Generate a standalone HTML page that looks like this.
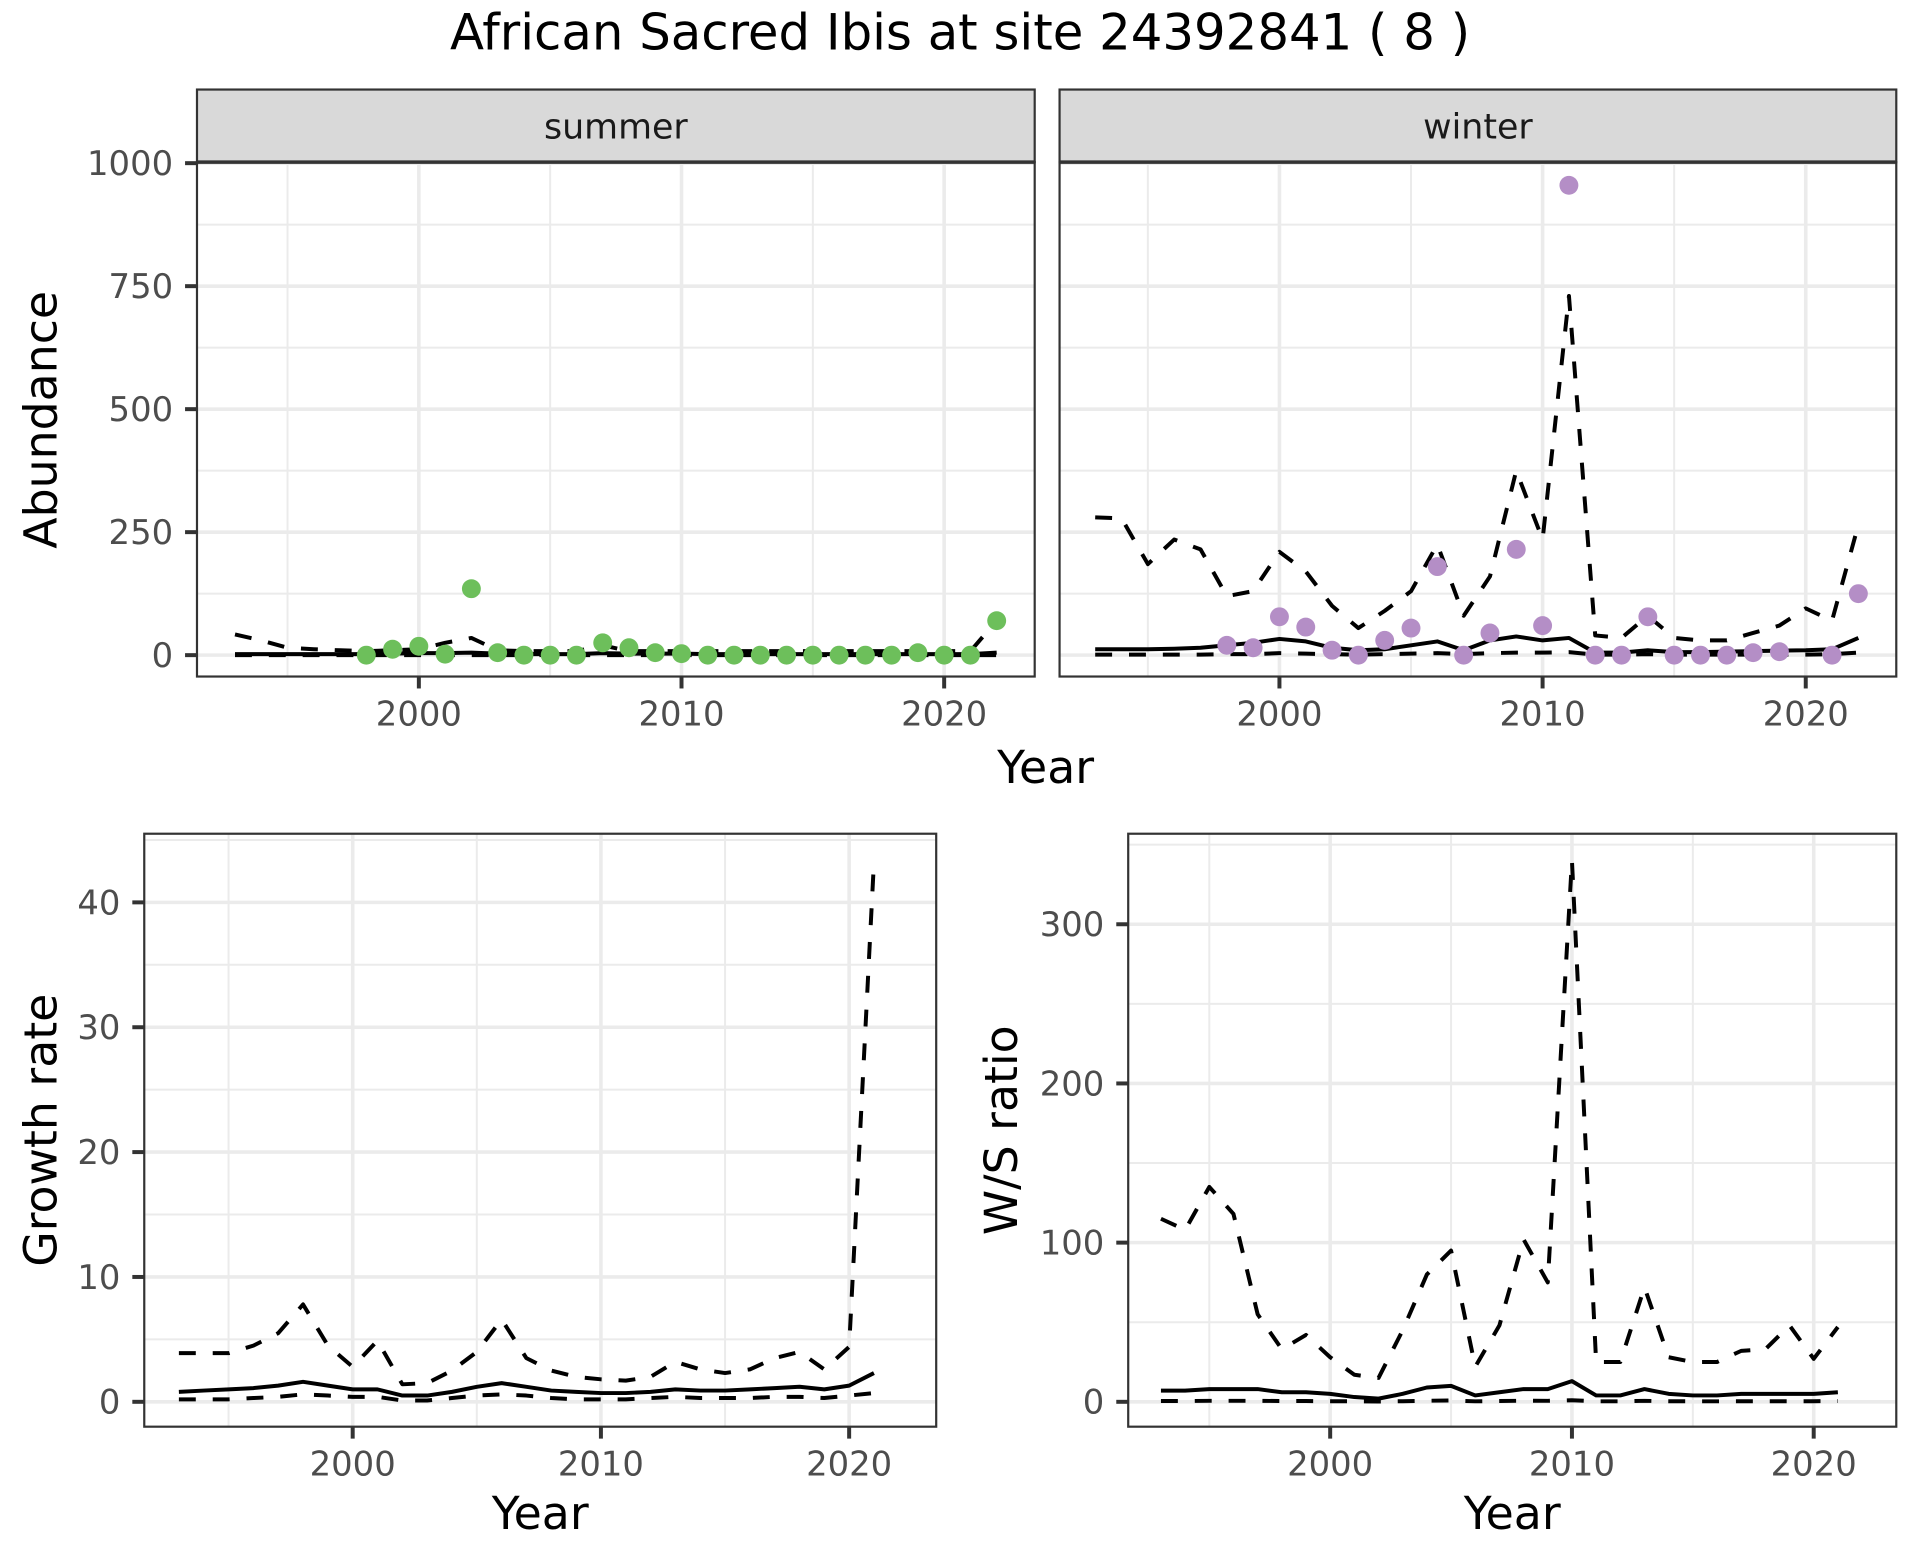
<!DOCTYPE html>
<html><head><meta charset="utf-8"><style>
html,body{margin:0;padding:0;background:#fff}
svg{display:block;font-family:"DejaVu Sans","Liberation Sans",sans-serif}
</style></head><body>
<svg width="1920" height="1560" viewBox="0 0 1920 1560" xmlns="http://www.w3.org/2000/svg">
<g id="chart" transform="scale(0.9949)">
<text x="965" y="50" font-size="50" text-anchor="middle" fill="#000">African Sacred Ibis at site 24392841 ( 8 )</text>
</g>
</svg>
<script>
const yearsTop = [1993,1994,1995,1996,1997,1998,1999,2000,2001,2002,2003,2004,2005,2006,2007,2008,2009,2010,2011,2012,2013,2014,2015,2016,2017,2018,2019,2020,2021,2022];
const summerUpper = [42,30,15,12,10,8,10,12,25,35,10,8,8,8,20,8,8,8,8,8,8,8,8,8,8,8,8,8,8,70];
const summerMid = [2,2,2,2,2,2,3,4,4,5,3,2,2,2,4,3,3,3,2,2,2,2,2,2,2,2,2,2,2,5];
const summerLower = [0,0,0,0,0,0,0,0,0,0,0,0,0,0,0,0,0,0,0,0,0,0,0,0,0,0,0,0,0,0];
const summerPtYears = [1998,1999,2000,2001,2002,2003,2004,2005,2006,2007,2008,2009,2010,2011,2012,2013,2014,2015,2016,2017,2018,2019,2020,2021,2022];
const summerPts = [0,12,18,2,135,5,0,0,0,25,15,5,3,0,0,0,0,0,0,0,0,5,0,0,70];
const winterUpper = [280,278,185,235,215,120,130,210,170,100,55,90,130,225,80,160,375,235,730,40,35,80,35,30,30,45,60,95,70,265];
const winterMid = [12,12,12,13,15,20,25,33,28,15,10,12,20,28,10,30,38,30,35,5,5,10,6,6,7,8,9,10,12,35];
const winterLower = [1,1,1,1,1,2,2,4,3,2,1,2,3,4,2,4,5,5,6,1,1,2,1,1,1,1,1,1,2,5];
const winterPtYears = [1998,1999,2000,2001,2002,2003,2004,2005,2006,2007,2008,2009,2010,2011,2012,2013,2014,2015,2016,2017,2018,2019,2021,2022];
const winterPts = [20,15,78,57,10,0,30,55,180,0,45,215,60,955,0,0,78,0,0,0,5,7,0,125];
const yearsBot = [1993,1994,1995,1996,1997,1998,1999,2000,2001,2002,2003,2004,2005,2006,2007,2008,2009,2010,2011,2012,2013,2014,2015,2016,2017,2018,2019,2020,2021];
const growthUpper = [3.9,3.9,3.9,4.5,5.5,7.8,4.5,2.8,4.9,1.4,1.5,2.5,4.0,6.6,3.5,2.5,2.0,1.8,1.7,2.0,3.2,2.6,2.3,2.6,3.5,4.0,2.6,4.4,43.2];
const growthMid = [0.8,0.9,1.0,1.1,1.3,1.6,1.3,1.0,1.0,0.5,0.5,0.8,1.2,1.5,1.2,0.9,0.8,0.7,0.7,0.8,1.0,0.9,0.9,1.0,1.1,1.2,1.0,1.3,2.3];
const growthLower = [0.2,0.2,0.2,0.3,0.4,0.6,0.5,0.4,0.4,0.1,0.1,0.3,0.5,0.6,0.5,0.3,0.2,0.2,0.2,0.3,0.4,0.3,0.3,0.3,0.4,0.4,0.3,0.5,0.7];
const wsUpper = [115,108,135,118,55,33,42,28,17,15,45,80,95,22,48,102,75,340,25,25,72,28,25,25,32,33,48,27,47];
const wsMid = [7,7,8,8,8,6,6,5,3,2,5,9,10,4,6,8,8,13,4,4,8,5,4,4,5,5,5,5,6];
const wsLower = [0.5,0.5,0.6,0.6,0.6,0.5,0.5,0.4,0.3,0.2,0.4,0.7,0.8,0.3,0.5,0.7,0.6,1,0.3,0.3,0.6,0.4,0.3,0.3,0.4,0.4,0.4,0.4,0.5];
const abundTicks = [0,250,500,750,1000];
const growthTicks = [0,10,20,30,40];
const wsTicks = [0,100,200,300];
const yearTicks = [2000,2010,2020];

const NS = "http://www.w3.org/2000/svg";
const svg = document.getElementById('chart');
function el(tag, attrs, parent){
  const e = document.createElementNS(NS, tag);
  for (const k in attrs) e.setAttribute(k, attrs[k]);
  (parent||svg).appendChild(e);
  return e;
}
function panel(cfg){
  const g = el('g', {});
  
  
  const X = v => cfg.x0 + (v - 2000) * cfg.xs;
  const Y = v => cfg.y0 - v * cfg.ys;
  const cid = cfg.name + '-clip';
  const cp = el('clipPath', {id: cid}, g);
  el('rect', {x: cfg.L, y: cfg.T, width: cfg.R - cfg.L, height: cfg.B - cfg.T}, cp);
  cfg.minorY.forEach(v => { const l = el('line', {x1: cfg.L, x2: cfg.R, y1: Y(v), y2: Y(v), stroke: '#ebebeb', 'stroke-width': 2}, g);
      });
  [1995,2005,2015].forEach(v => { const l = el('line', {x1: X(v), x2: X(v), y1: cfg.T, y2: cfg.B, stroke: '#ebebeb', 'stroke-width': 2}, g);
      });
  cfg.ticks.forEach(v => {
    const l = el('line', {x1: cfg.L, x2: cfg.R, y1: Y(v), y2: Y(v), stroke: '#ebebeb', 'stroke-width': 3.6}, g);
     
    if (cfg.yLabels) {
      el('line', {x1: cfg.L - 12, x2: cfg.L, y1: Y(v), y2: Y(v), stroke: '#333', 'stroke-width': 4}, g);
      const t = el('text', {x: cfg.L - 24, y: Y(v) + 12, 'font-size': 34, 'text-anchor': 'end', fill: '#4d4d4d'}, g);
      t.textContent = v;
       
    }
  });
  yearTicks.forEach(v => {
    const l = el('line', {x1: X(v), x2: X(v), y1: cfg.T, y2: cfg.B, stroke: '#ebebeb', 'stroke-width': 3.6}, g);
     
    el('line', {x1: X(v), x2: X(v), y1: cfg.B, y2: cfg.B + 12, stroke: '#333', 'stroke-width': 4}, g);
    const t = el('text', {x: X(v), y: cfg.B + 49, 'font-size': 34, 'text-anchor': 'middle', fill: '#4d4d4d'}, g);
    t.textContent = v;
     
  });
  const lg = el('g', {'clip-path': 'url(#' + cid + ')'}, g);
  cfg.series.forEach(s => {
    const d = s.vals.map((v, i) => (i ? 'L' : 'M') + X(cfg.years[i]).toFixed(1) + ',' + Y(v).toFixed(1)).join(' ');
    const p = el('path', {d: d, fill: 'none', stroke: '#000', 'stroke-width': 4, 'stroke-linejoin': 'round'}, lg);
    if (s.dash) p.setAttribute('stroke-dasharray', '17 17');
     
  });
  if (cfg.pts) cfg.pts.forEach((v, i) => {
    const c = el('circle', {cx: X(cfg.ptYears[i]), cy: Y(v), r: 9.5, fill: cfg.ptColor}, lg);
     
  });
  const fr = el('rect', {x: cfg.L, y: cfg.T, width: cfg.R - cfg.L, height: cfg.B - cfg.T, fill: 'none', stroke: '#333', 'stroke-width': 2.2}, g);
   
  if (cfg.strip) {
    const sr = el('rect', {x: cfg.L, y: 90, width: cfg.R - cfg.L, height: cfg.T - 90, fill: '#d9d9d9', stroke: '#333', 'stroke-width': 2.2}, g);
     
    const sl = el('line', {x1: cfg.L, x2: cfg.R, y1: cfg.T, y2: cfg.T, stroke: '#333', 'stroke-width': 3.5}, g);
     
    const st = el('text', {x: (cfg.L + cfg.R) / 2, y: 139, 'font-size': 35, 'text-anchor': 'middle', fill: '#1a1a1a'}, g);
    st.textContent = cfg.strip;
     
  }
}
panel({name: 'summer-panel', L: 198, R: 1040, T: 163, B: 680, x0: 421, xs: 26.4, y0: 658.5, ys: 0.4945,
  ticks: abundTicks, minorY: [125,375,625,875], yLabels: true, strip: 'summer', years: yearsTop,
  series: [{vals: summerUpper, dash: true, name: 'summer-upper-line'}, {vals: summerMid, name: 'summer-mean-line'}, {vals: summerLower, dash: true, name: 'summer-lower-line'}],
  pts: summerPts, ptYears: summerPtYears, ptColor: '#6dbf5b'});
panel({name: 'winter-panel', L: 1065, R: 1906, T: 163, B: 680, x0: 1286, xs: 26.45, y0: 658.5, ys: 0.4945,
  ticks: abundTicks, minorY: [125,375,625,875], yLabels: false, strip: 'winter', years: yearsTop,
  series: [{vals: winterUpper, dash: true, name: 'winter-upper-line'}, {vals: winterMid, name: 'winter-mean-line'}, {vals: winterLower, dash: true, name: 'winter-lower-line'}],
  pts: winterPts, ptYears: winterPtYears, ptColor: '#b48ec6'});
panel({name: 'growth-panel', L: 145, R: 941, T: 838, B: 1434, x0: 354.5, xs: 24.95, y0: 1409, ys: 12.55,
  ticks: growthTicks, minorY: [5,15,25,35,45], yLabels: true, years: yearsBot,
  series: [{vals: growthUpper, dash: true, name: 'growth-upper-line'}, {vals: growthMid, name: 'growth-mean-line'}, {vals: growthLower, dash: true, name: 'growth-lower-line'}]});
panel({name: 'ws-ratio-panel', L: 1134, R: 1906, T: 838, B: 1434, x0: 1337, xs: 24.3, y0: 1409, ys: 1.6,
  ticks: wsTicks, minorY: [50,150,250,350], yLabels: true, years: yearsBot,
  series: [{vals: wsUpper, dash: true, name: 'ws-upper-line'}, {vals: wsMid, name: 'ws-mean-line'}, {vals: wsLower, dash: true, name: 'ws-lower-line'}]});
function title(txt, x, y, rot, name){
  const t = el('text', {x: x, y: y, 'font-size': 46, 'text-anchor': 'middle', fill: '#000'});
  if (rot) t.setAttribute('transform', 'rotate(-90 ' + x + ' ' + y + ')');
  t.textContent = txt;
   
}
title('Year', 1051, 787, false, 'top-x-axis-title');
title('Abundance', 57, 422, true, 'abundance-y-axis-title');
title('Year', 543, 1537, false, 'growth-x-axis-title');
title('Growth rate', 57, 1136, true, 'growth-y-axis-title');
title('Year', 1520, 1537, false, 'ws-x-axis-title');
title('W/S ratio', 1022, 1136, true, 'ws-y-axis-title');
</script>
</body></html>
